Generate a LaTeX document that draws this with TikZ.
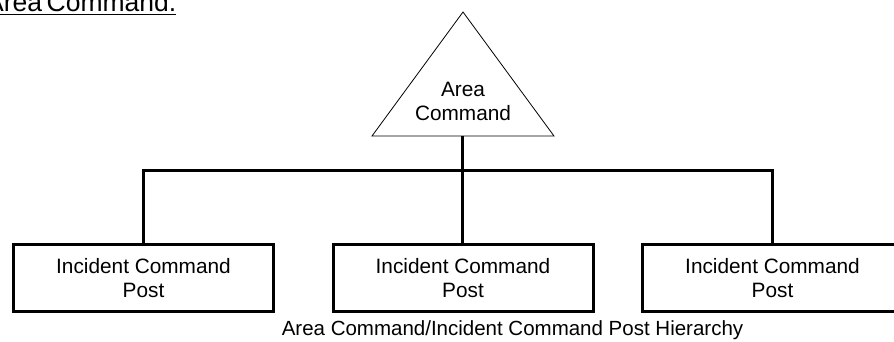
\documentclass[tikz,border=0pt]{standalone}
\usepackage{fontspec}
\setmainfont{Liberation Sans}
\usetikzlibrary{positioning}

\begin{document}
\begin{tikzpicture}[x=1pt,y=-1pt,
  post/.style={draw, line width=3pt, minimum width=260pt, minimum height=67pt,
    align=center, inner sep=0pt, font=\fontsize{20.8}{24}\selectfont},
  link/.style={line width=3pt}]
\useasboundingbox (0,0) rectangle (894,341);
\clip (0,0) rectangle (894,341);

% heading, cut off at the top
\node[anchor=base west, inner sep=0pt, font={\fontsize{26.5}{30}\selectfont\spaceskip=4.5pt\relax}] (heading) at (-14,11.5) {Area Command.};
\draw[line width=1.5pt] ([yshift=-3pt]heading.base west) -- ([yshift=-3pt]heading.base east);

% triangle
\coordinate (apex) at (463,12);
\coordinate (baseL) at (372,136);
\coordinate (baseR) at (554,136);
\draw[line width=0.8pt] (apex) -- (baseL) -- (baseR) -- cycle;
\node[align=center, inner sep=0pt, font=\fontsize{20.8}{24}\selectfont] (area) at (463,101.5) {Area\\Command};
\coordinate (areabase) at (462,136);

% posts
\node[post] (icp1) at (143.5,278) {Incident Command\\Post};
\node[post] (icp2) at (463,278) {Incident Command\\Post};
\node[post] (icp3) at (772.5,278) {Incident Command\\Post};

% connectors
\coordinate (bus) at (462,170);
\draw[link] (areabase) -- (areabase |- icp2.north);
\draw[link] (icp1.north) |- (bus) -| (icp3.north);

\node[anchor=base, inner sep=0pt, font=\fontsize{20.5}{24}\selectfont] (caption) at (512.5,335) {Area Command/Incident Command Post Hierarchy};
\end{tikzpicture}
\end{document}
